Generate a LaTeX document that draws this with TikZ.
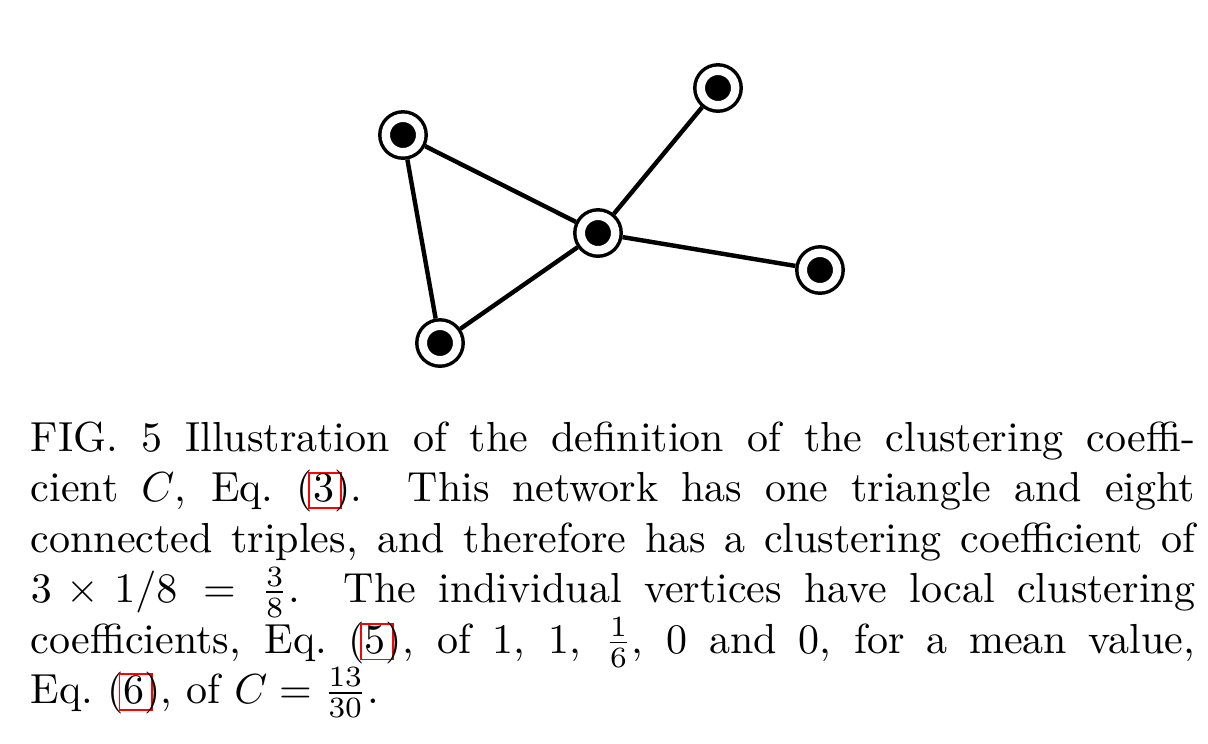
\documentclass[tikz,border=0pt]{standalone}
\usetikzlibrary{arrows,shapes.geometric}

\newcommand{\eqlink}[1]{\makebox[0pt][l]{\kern-1.2pt{\color{red}\setlength{\fboxsep}{0pt}\setlength{\fboxrule}{0.45pt}\fbox{\kern1.1pt\rule[-1.3pt]{0pt}{8pt}\phantom{#1}\kern1.1pt}}}#1}

\begin{document}
\begin{tikzpicture}[x=0.2381pt,y=-0.2381pt]
\tikzstyle{vertex} = [circle, draw=black, fill=black, line width=0.83pt,
double=white, double distance=2pt, minimum size=8.2pt, inner sep=0pt, outer sep=1.83pt]
\tikzstyle{caption} = [text width=277.2pt, align=justify, inner sep=0pt, anchor=north west]
\tikzstyle{line} = [draw, line width=1.05pt]
\useasboundingbox (0,0) rectangle (1208,743);
% vertices
\node [vertex] (left) at (403,135) {};
\node [vertex] (top) at (718,88) {};
\node [vertex] (hub) at (598,233) {};
\node [vertex] (right) at (820,270) {};
\node [vertex] (bottom) at (440,343) {};
% caption
\node [caption] (fig) at (30,421) {FIG.~5 Illustration of the definition of the clustering coeffi-\linebreak
cient $C$, Eq.~(\eqlink{3}).  This network has one triangle and eight\linebreak
connected triples, and therefore has a clustering coefficient of\linebreak
$3\times1/8=\frac{3}{8}$.  The individual vertices have local clustering\linebreak
coefficients, Eq.~(\eqlink{5}), of 1, 1, $\frac{1}{6}$, 0 and 0, for a mean value,\linebreak
Eq.~(\eqlink{6}), of $C=\frac{13}{30}$.};
% edges
\tikzstyle{every path}=[line]
\path (left) -- (hub);
\path (left) -- (bottom);
\path (bottom) -- (hub);
\path (hub) -- (top);
\path (hub) -- (right);
\end{tikzpicture}
\end{document}
